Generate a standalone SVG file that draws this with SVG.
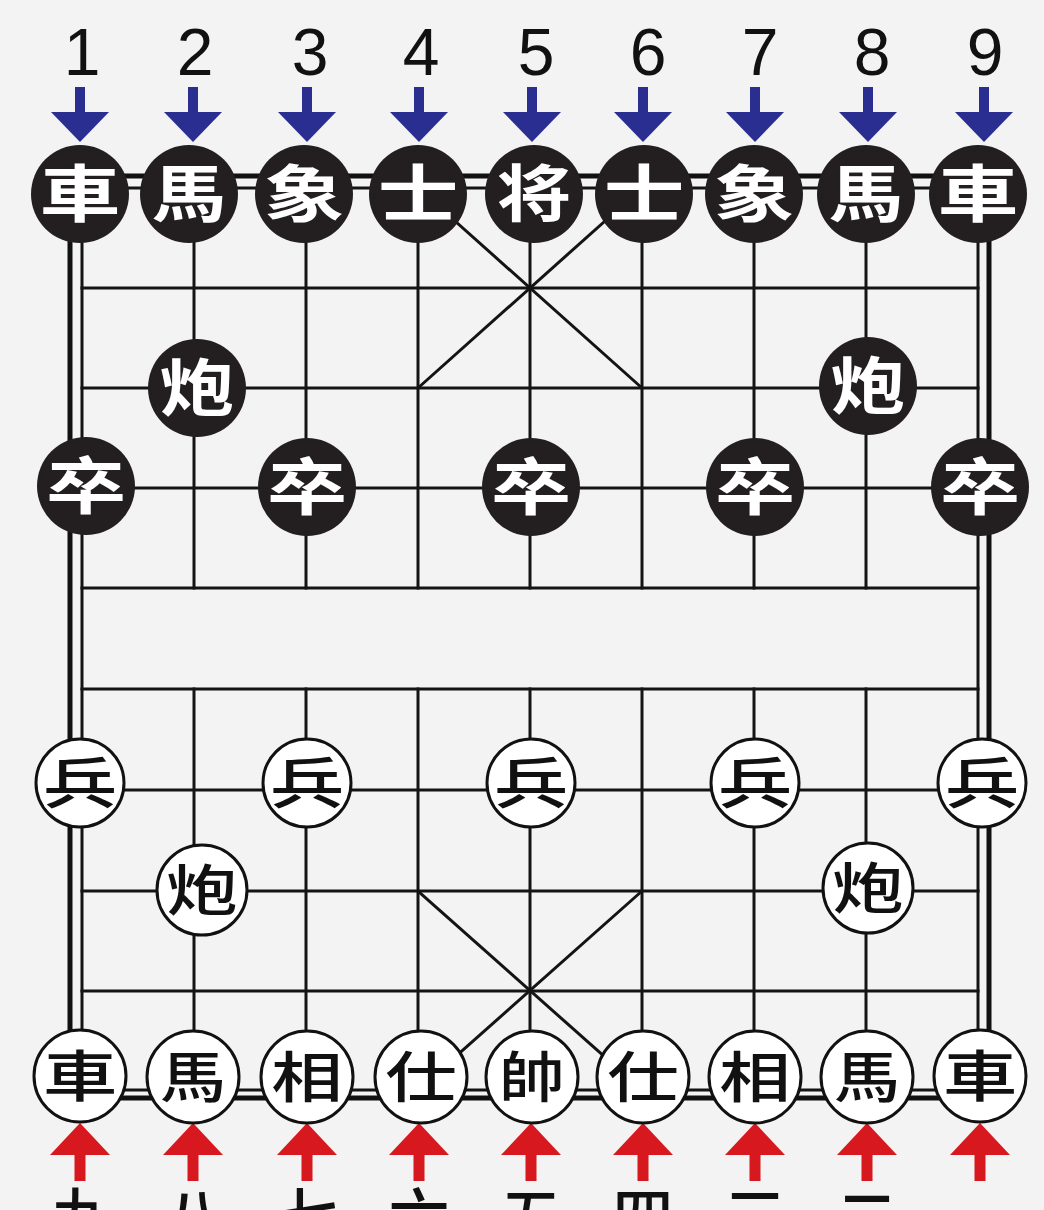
<svg xmlns="http://www.w3.org/2000/svg" width="1044" height="1210" viewBox="0 0 1044 1210">
<style>
.grid line{stroke:#141414;stroke-width:3;stroke-linecap:square}
.frame{fill:none;stroke:#111;stroke-width:5}
.num{font-family:"Liberation Sans",Arial,sans-serif;font-size:66px;fill:#111;text-anchor:middle}
.cn{font-family:"Noto Sans CJK SC","Noto Sans CJK TC",sans-serif;font-size:61px;font-weight:500;fill:#111;text-anchor:middle}
.bp circle{fill:#231f20}
.bp text{font-family:"Noto Sans CJK TC","Noto Sans CJK SC",sans-serif;font-size:62px;font-weight:700;fill:#fff;text-anchor:middle}
.rp circle{fill:#fff;stroke:#111;stroke-width:3}
.rp text{font-family:"Noto Sans CJK TC","Noto Sans CJK SC",sans-serif;font-size:55px;font-weight:500;fill:#111;text-anchor:middle}
.blue{fill:#2a2e91}
.red{fill:#d8181f}
</style>
<defs>
<g id="arrDown"><rect x="-5" y="87" width="10" height="27"/><polygon points="-29,112 29,112 0,142"/></g>
<g id="arrUp"><rect x="-5.5" y="1153" width="11" height="28"/><polygon points="-30,1155 30,1155 0,1123"/></g>
</defs>
<rect width="1044" height="1210" fill="#f3f3f3"/>

<g id="board">
<rect class="frame" x="70" y="176" width="919" height="922"/>
<g class="grid">
<line x1="82" y1="188" x2="978" y2="188"/>
<line x1="82" y1="288" x2="978" y2="288"/>
<line x1="82" y1="388" x2="978" y2="388"/>
<line x1="82" y1="488" x2="978" y2="488"/>
<line x1="82" y1="588" x2="978" y2="588"/>
<line x1="82" y1="689" x2="978" y2="689"/>
<line x1="82" y1="790" x2="978" y2="790"/>
<line x1="82" y1="891" x2="978" y2="891"/>
<line x1="82" y1="991" x2="978" y2="991"/>
<line x1="82" y1="1090" x2="978" y2="1090"/>
<line x1="82" y1="188" x2="82" y2="1090"/>
<line x1="978" y1="188" x2="978" y2="1090"/>
<line x1="194" y1="188" x2="194" y2="588"/>
<line x1="306" y1="188" x2="306" y2="588"/>
<line x1="418" y1="188" x2="418" y2="588"/>
<line x1="530" y1="188" x2="530" y2="588"/>
<line x1="642" y1="188" x2="642" y2="588"/>
<line x1="754" y1="188" x2="754" y2="588"/>
<line x1="866" y1="188" x2="866" y2="588"/>
<line x1="194" y1="689" x2="194" y2="1090"/>
<line x1="306" y1="689" x2="306" y2="1090"/>
<line x1="418" y1="689" x2="418" y2="1090"/>
<line x1="530" y1="689" x2="530" y2="1090"/>
<line x1="642" y1="689" x2="642" y2="1090"/>
<line x1="754" y1="689" x2="754" y2="1090"/>
<line x1="866" y1="689" x2="866" y2="1090"/>
<line x1="418" y1="188" x2="642" y2="388"/>
<line x1="642" y1="188" x2="418" y2="388"/>
<line x1="418" y1="891" x2="642" y2="1090"/>
<line x1="642" y1="891" x2="418" y2="1090"/>
</g>
</g>

<g id="file-numbers">
<text class="num" x="82" y="75">1</text>
<text class="num" x="195" y="75">2</text>
<text class="num" x="310" y="75">3</text>
<text class="num" x="421" y="75">4</text>
<text class="num" x="536" y="75">5</text>
<text class="num" x="648" y="75">6</text>
<text class="num" x="760" y="75">7</text>
<text class="num" x="872" y="75">8</text>
<text class="num" x="985" y="75">9</text>
</g>
<g id="file-numerals-cn">
<text class="cn" x="82" y="1239">九</text>
<text class="cn" x="194" y="1239">八</text>
<text class="cn" x="307" y="1239">七</text>
<text class="cn" x="419" y="1239">六</text>
<text class="cn" x="531" y="1239">五</text>
<text class="cn" x="643" y="1239">四</text>
<text class="cn" x="755" y="1239">三</text>
<text class="cn" x="867" y="1239">二</text>
<text class="cn" x="980" y="1239">一</text>
</g>

<g id="connectors">
<g class="blue">
<use href="#arrDown" x="80"/>
<use href="#arrDown" x="193"/>
<use href="#arrDown" x="307"/>
<use href="#arrDown" x="419"/>
<use href="#arrDown" x="532"/>
<use href="#arrDown" x="643"/>
<use href="#arrDown" x="755"/>
<use href="#arrDown" x="868"/>
<use href="#arrDown" x="984"/>
</g>
<g class="red">
<use href="#arrUp" x="80"/>
<use href="#arrUp" x="193"/>
<use href="#arrUp" x="307"/>
<use href="#arrUp" x="419"/>
<use href="#arrUp" x="531"/>
<use href="#arrUp" x="643"/>
<use href="#arrUp" x="755"/>
<use href="#arrUp" x="867"/>
<use href="#arrUp" x="980"/>
</g>
</g>

<g id="black-pieces">
<g id="b-che-l" class="bp" transform="translate(80,194)"><circle r="49"/><text transform="scale(1.3,1)" y="23">車</text></g>
<g id="b-ma-l" class="bp" transform="translate(189,194)"><circle r="49"/><text transform="scale(1.2,1)" y="23">馬</text></g>
<g id="b-xiang-l" class="bp" transform="translate(304,194)"><circle r="49"/><text transform="scale(1.3,1)" y="23">象</text></g>
<g id="b-shi-l" class="bp" transform="translate(418,194)"><circle r="49"/><text transform="scale(1.3,1)" y="23">士</text></g>
<g id="b-jiang" class="bp" transform="translate(534,194)"><circle r="49"/><text transform="scale(1.2,1)" y="23">将</text></g>
<g id="b-shi-r" class="bp" transform="translate(644,194)"><circle r="49"/><text transform="scale(1.3,1)" y="23">士</text></g>
<g id="b-xiang-r" class="bp" transform="translate(754,194)"><circle r="49"/><text transform="scale(1.3,1)" y="23">象</text></g>
<g id="b-ma-r" class="bp" transform="translate(866,194)"><circle r="49"/><text transform="scale(1.2,1)" y="23">馬</text></g>
<g id="b-che-r" class="bp" transform="translate(978,194)"><circle r="49"/><text transform="scale(1.3,1)" y="23">車</text></g>
<g id="b-pao-l" class="bp" transform="translate(197,388)"><circle r="49"/><text transform="scale(1.2,1)" y="23">炮</text></g>
<g id="b-pao-r" class="bp" transform="translate(868,386)"><circle r="49"/><text transform="scale(1.2,1)" y="23">炮</text></g>
<g id="b-zu-1" class="bp" transform="translate(86,486)"><circle r="49"/><text transform="scale(1.3,1)" y="23">卒</text></g>
<g id="b-zu-3" class="bp" transform="translate(307,487)"><circle r="49"/><text transform="scale(1.3,1)" y="23">卒</text></g>
<g id="b-zu-5" class="bp" transform="translate(531,487)"><circle r="49"/><text transform="scale(1.3,1)" y="23">卒</text></g>
<g id="b-zu-7" class="bp" transform="translate(755,487)"><circle r="49"/><text transform="scale(1.3,1)" y="23">卒</text></g>
<g id="b-zu-9" class="bp" transform="translate(980,487)"><circle r="49"/><text transform="scale(1.3,1)" y="23">卒</text></g>
</g>

<g id="red-pieces">
<g id="r-bing-1" class="rp" transform="translate(80,783)"><circle r="44"/><text transform="scale(1.35,1)" y="20">兵</text></g>
<g id="r-bing-3" class="rp" transform="translate(307,783)"><circle r="44"/><text transform="scale(1.35,1)" y="20">兵</text></g>
<g id="r-bing-5" class="rp" transform="translate(531,783)"><circle r="44"/><text transform="scale(1.35,1)" y="20">兵</text></g>
<g id="r-bing-7" class="rp" transform="translate(755,783)"><circle r="44"/><text transform="scale(1.35,1)" y="20">兵</text></g>
<g id="r-bing-9" class="rp" transform="translate(982,783)"><circle r="44"/><text transform="scale(1.35,1)" y="20">兵</text></g>
<g id="r-pao-l" class="rp" transform="translate(202,890)"><circle r="45"/><text transform="scale(1.3,1)" y="20">炮</text></g>
<g id="r-pao-r" class="rp" transform="translate(868,888)"><circle r="45"/><text transform="scale(1.3,1)" y="20">炮</text></g>
<g id="r-che-l" class="rp" transform="translate(80,1076)"><circle r="46"/><text transform="scale(1.35,1)" y="20">車</text></g>
<g id="r-ma-l" class="rp" transform="translate(193,1077)"><circle r="46"/><text transform="scale(1.2,1)" y="20">馬</text></g>
<g id="r-xiang-l" class="rp" transform="translate(307,1077)"><circle r="46"/><text transform="scale(1.3,1)" y="20">相</text></g>
<g id="r-shi-l" class="rp" transform="translate(421,1077)"><circle r="46"/><text transform="scale(1.3,1)" y="20">仕</text></g>
<g id="r-shuai" class="rp" transform="translate(532,1077)"><circle r="46"/><text transform="scale(1.2,1)" y="20">帥</text></g>
<g id="r-shi-r" class="rp" transform="translate(643,1077)"><circle r="46"/><text transform="scale(1.3,1)" y="20">仕</text></g>
<g id="r-xiang-r" class="rp" transform="translate(755,1077)"><circle r="46"/><text transform="scale(1.3,1)" y="20">相</text></g>
<g id="r-ma-r" class="rp" transform="translate(867,1077)"><circle r="46"/><text transform="scale(1.2,1)" y="20">馬</text></g>
<g id="r-che-r" class="rp" transform="translate(980,1076)"><circle r="46"/><text transform="scale(1.35,1)" y="20">車</text></g>
</g>
</svg>
